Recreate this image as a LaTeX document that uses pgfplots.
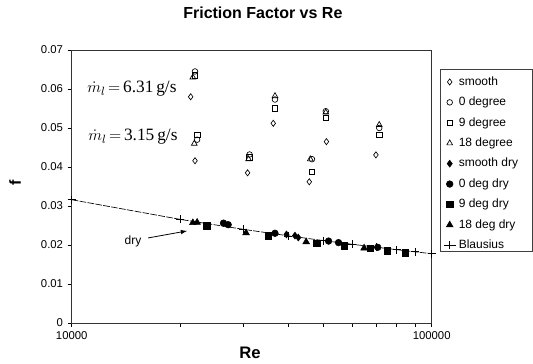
\documentclass[border=0pt]{standalone}
\usepackage{fontspec}
\setmainfont{Liberation Sans}
\newfontfamily\serif{Liberation Serif}
\usepackage{pgfplots}
\pgfplotsset{compat=1.18}
\begin{document}
\begin{tikzpicture}
\begin{axis}[
  at={(0,0)}, anchor=south west,
  scale only axis, width=270pt, height=204.75pt,
  xmode=log, xmin=10000, xmax=100000, ymin=0, ymax=0.07,
  xtick={10000,100000}, xticklabels={10000,100000},
  minor xtick={20000,30000,40000,50000,60000,70000,80000,90000},
  ytick={0,0.01,0.02,0.03,0.04,0.05,0.06,0.07},
  yticklabels={0,0.01,0.02,0.03,0.04,0.05,0.06,0.07},
  scaled y ticks=false,
  xtick pos=bottom, ytick pos=left, tick align=outside,
  major tick length=3pt, minor tick length=3pt,
  tick style={black, line width=0.5pt},
  axis line style={black!80, line width=0.6pt},
  ticklabel style={font=\fontsize{8.5}{10}\selectfont},
  /pgf/number format/assume math mode=true,
  clip=false,
  mark size=2.3pt,
  legend image code/.code={\draw[mark repeat=2,mark phase=2,#1] plot coordinates {(0cm,0cm)(0.16cm,0cm)(0.32cm,0cm)};},
  legend style={at={(1.026,0.928)}, anchor=north west, draw=none, fill=none,
    font=\fontsize{9}{10.5}\selectfont, row sep=3.3pt, inner xsep=1.5pt, inner ysep=3pt,
    cells={anchor=west}},
]
\addplot[only marks, mark=diamond, mark options={black, line width=0.5pt}] coordinates {
(21400,0.0580)(22000,0.0416)(30800,0.0385)(36300,0.0512)(45700,0.0362)(51000,0.0465)(70000,0.0431)};
\addlegendentry{smooth}
\addplot[only marks, mark=o, mark options={black, line width=0.5pt}, mark size=2.1pt] coordinates {
(22000,0.0645)(22300,0.0470)(31200,0.0432)(36700,0.0573)(46500,0.0420)(50800,0.0543)(71500,0.0500)};
\addlegendentry{0 degree}
\addplot[only marks, mark=square, mark options={black, line width=0.5pt}, mark size=2.1pt] coordinates {
(22000,0.0635)(22300,0.0482)(31200,0.0425)(36700,0.0550)(46500,0.0388)(50800,0.0526)(71500,0.0482)};
\addlegendentry{9 degree}
\addplot[only marks, mark=triangle, mark options={black, line width=0.5pt}, mark size=2.5pt] coordinates {
(21700,0.0630)(21900,0.0460)(31000,0.0420)(36700,0.0582)(46000,0.0420)(50800,0.0540)(71500,0.0508)};
\addlegendentry{18 degree}
\addplot[only marks, mark=diamond*, mark options={black, fill=black}, mark size=2.6pt] coordinates {
(39500,0.0227)(41700,0.0224)(42600,0.0219)};
\addlegendentry{smooth dry}
\addplot[only marks, mark=*, mark options={black, fill=black}, mark size=2.5pt] coordinates {
(26400,0.0256)(27200,0.0252)(36700,0.0230)(51700,0.0210)(55100,0.0206)(70800,0.0194)};
\addlegendentry{0 deg dry}
\addplot[only marks, mark=square*, mark options={black, fill=black}, mark size=2.4pt] coordinates {
(23700,0.0249)(35100,0.0224)(47900,0.0204)(57200,0.0198)(67400,0.0191)(75300,0.0185)(84400,0.0180)};
\addlegendentry{9 deg dry}
\addplot[only marks, mark=triangle*, mark options={black, fill=black}, mark size=2.9pt] coordinates {
(21700,0.0257)(22300,0.0258)(30500,0.0231)(44800,0.0208)(64900,0.0192)};
\addlegendentry{18 deg dry}
\addplot[black, line width=0.5pt, dash pattern=on 5pt off 1pt, mark=+, mark size=3pt, mark options={solid}] coordinates {
(10000,0.03160)(20000,0.02657)(30000,0.02401)(40000,0.02234)(50000,0.02113)(60000,0.02019)(70000,0.01944)(80000,0.01879)(90000,0.01824)(100000,0.01777)};
\addlegendentry{Blausius}
\draw[black!75, line width=0.5pt] (rel axis cs:1.0231,0.930) rectangle (rel axis cs:1.2786,0.2637);
\node[font=\bfseries\fontsize{12}{14}\selectfont] at (rel axis cs:0.531,1.1355) {Friction Factor vs Re};
\node[font=\bfseries\fontsize{12}{14}\selectfont, rotate=90] at (rel axis cs:-0.1575,0.513) {f};
\node[font=\bfseries\fontsize{12.5}{14}\selectfont] at (rel axis cs:0.495,-0.11) {Re};
\node[anchor=west, font=\serif\fontsize{13}{15}\selectfont, inner sep=0pt] at (axis cs:11030,0.0600) {$\dot{m}_l\,{=}\,$6.31\,g/s};
\node[anchor=west, font=\serif\fontsize{13}{15}\selectfont, inner sep=0pt] at (axis cs:11100,0.0477) {$\dot{m}_l\,{=}\,$3.15\,g/s};
\node[font=\fontsize{9}{10}\selectfont] at (axis cs:14800,0.0208) {dry};
\draw[-latex, black, line width=0.6pt] (axis cs:16300,0.0218) -- (axis cs:20900,0.0236);
\end{axis}
\pgfresetboundingbox
\useasboundingbox (-53.8pt,-30.75pt) rectangle (346pt,242.25pt);
\end{tikzpicture}
\end{document}
